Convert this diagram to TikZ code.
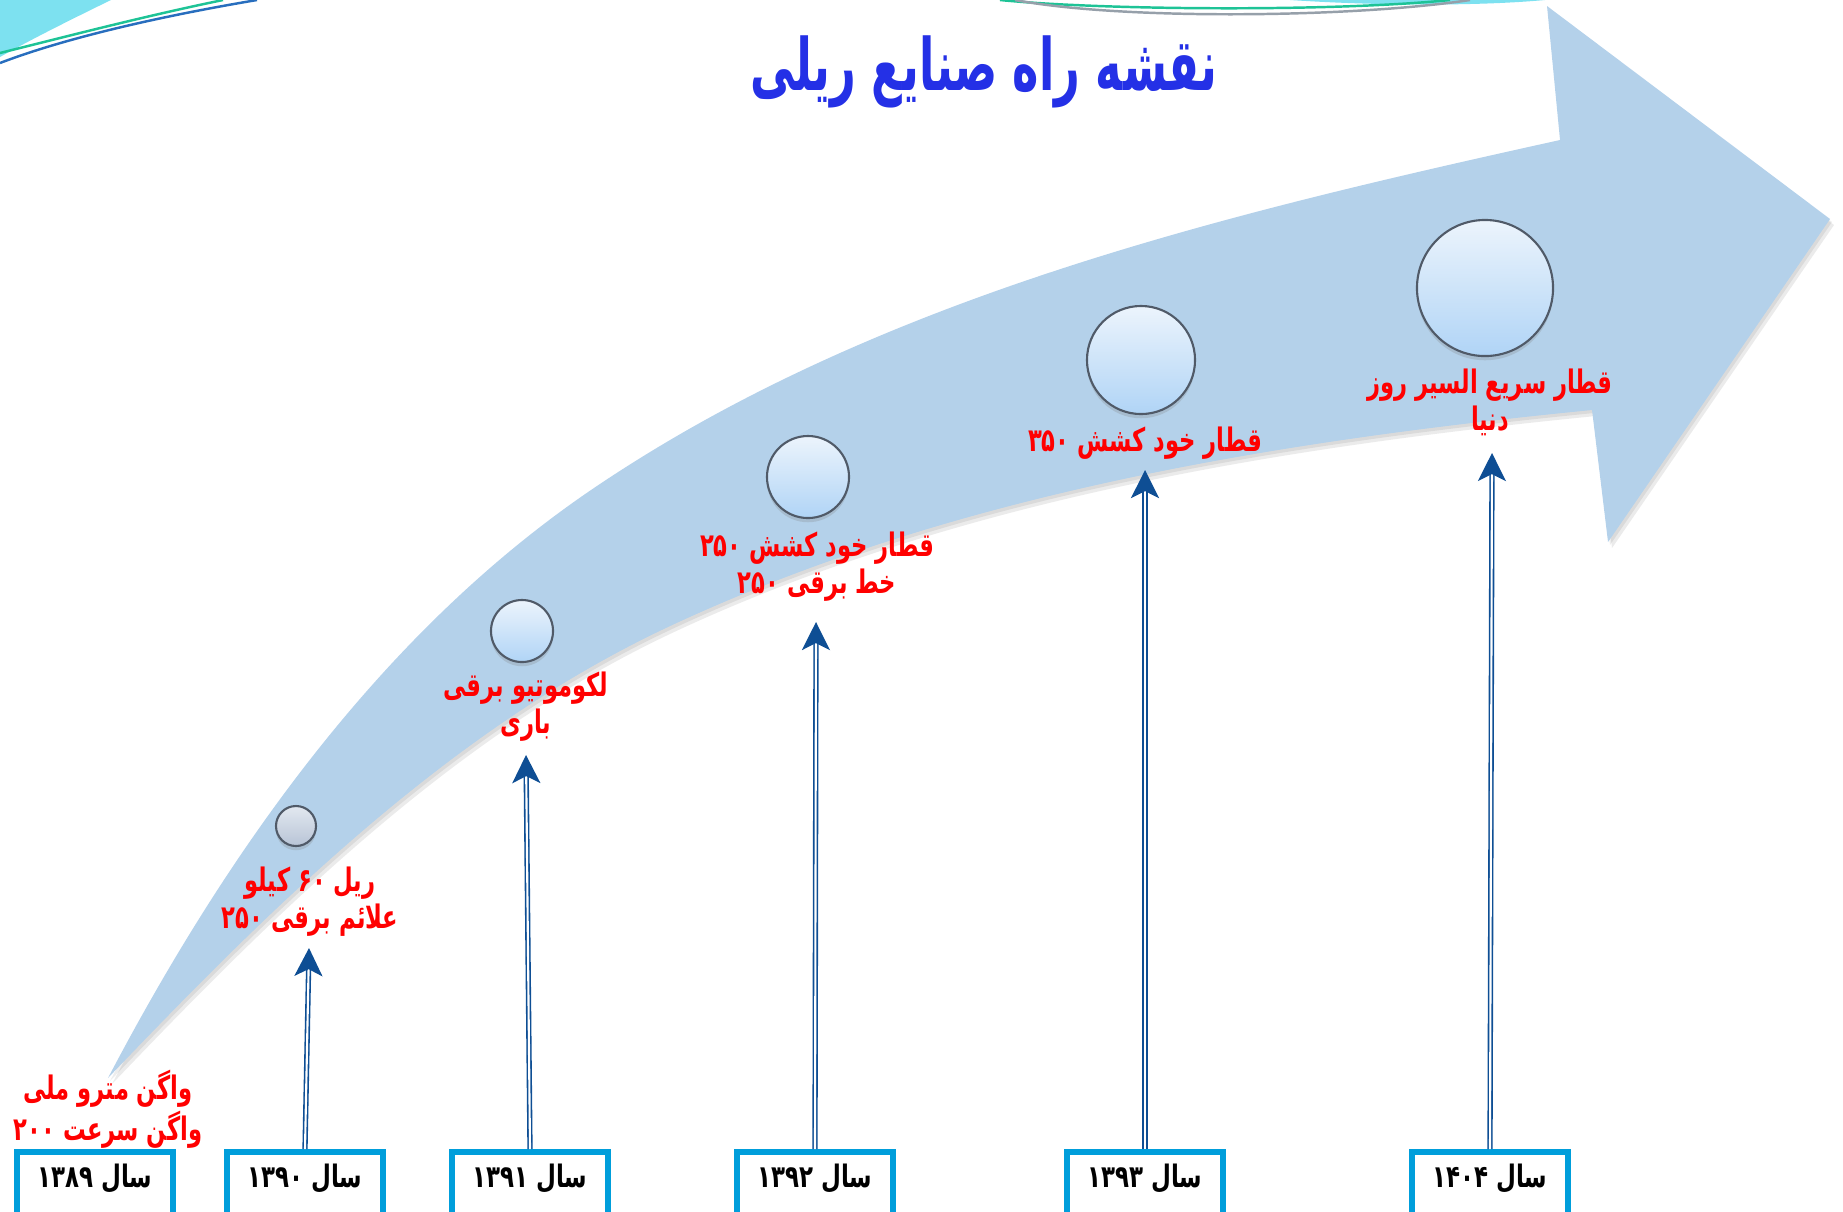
\documentclass[tikz,border=0pt]{standalone}
\usepackage{fontspec}
\usetikzlibrary{arrows.meta,shadows}
\TeXXeTstate=1
\newfontfamily\falabel[Script=Arabic,FakeStretch=0.70]{DejaVu Sans}
\newfontfamily\fabox[Script=Arabic,FakeStretch=0.74]{DejaVu Sans}
\newfontfamily\fatitle[Script=Arabic,FakeStretch=0.62]{DejaVu Sans}
\definecolor{arrowfill}{RGB}{180,209,234}
\definecolor{titleblue}{RGB}{36,48,230}
\definecolor{boxblue}{RGB}{0,158,219}
\definecolor{linkblue}{RGB}{14,78,148}
\definecolor{circedge}{RGB}{80,90,104}
\definecolor{bubtop}{RGB}{236,244,252}
\definecolor{bubbot}{RGB}{176,212,246}
\definecolor{bubgreytop}{RGB}{226,232,240}
\definecolor{bubgreybot}{RGB}{184,196,214}
\definecolor{decocyan}{RGB}{125,225,240}
\definecolor{decogreen}{RGB}{30,195,150}
\definecolor{decoblue}{RGB}{40,110,190}
\definecolor{decogrey}{RGB}{150,160,170}
\newcommand\bigarrowpath{(108,1078) .. controls (226,853) and (381,633) .. (591,490) .. controls (875,297) and (1225,214) .. (1560,140) -- (1547,6) -- (1830,219) -- (1608,542) -- (1592,410) .. controls (1278,441) and (954,493) .. (668,627) .. controls (451,729) and (274,904) .. (108,1078) -- cycle}
\begin{document}
\begin{tikzpicture}[x=0.01cm, y=-0.01cm,
  yearbox/.style={draw=boxblue, line width=1.7pt, fill=white, minimum width=1.55cm, minimum height=0.72cm, inner sep=0pt, text height=6pt, text depth=6.5pt, anchor=north, font=\fabox\bfseries\fontsize{8.8}{10}\selectfont},
  milestone/.style={text=red, align=center, inner sep=1pt, font=\falabel\bfseries\fontsize{9.2}{10.5}\selectfont},
  bubble/.style={circle, draw=circedge, line width=0.6pt, top color=bubtop, bottom color=bubbot, inner sep=0pt, drop shadow={shadow xshift=0pt, shadow yshift=-1.2pt, opacity=0.25}},
  link/.style={draw=linkblue, double=white, double distance=0.6pt, line width=0.45pt, -{Stealth[length=8pt,width=8pt,inset=2pt]}},
]
\useasboundingbox (0,0) rectangle (1843,1211);
\clip (0,0) rectangle (1843,1211);
% corner decorations
\fill[decocyan] (0,0) -- (111,0) .. controls (70,20) and (30,40) .. (0,57) -- cycle;
\draw[decogreen, line width=0.7pt] (0,53) .. controls (80,33) and (150,15) .. (223,0);
\draw[decoblue, line width=0.7pt] (0,63) .. controls (60,40) and (150,18) .. (257,0);
\fill[decocyan] (1290,0) .. controls (1380,6) and (1480,6) .. (1545,0) -- cycle;
\draw[decogreen, line width=0.7pt] (1000,0) .. controls (1100,10) and (1330,12) .. (1450,0);
\draw[decogrey, line width=0.7pt] (1015,0) .. controls (1120,20) and (1350,18) .. (1470,0);
% big arrow
\fill[black, opacity=0.07, shift={(2,3)}] \bigarrowpath;
\fill[black, opacity=0.08, shift={(4,6)}] \bigarrowpath;
\fill[arrowfill] \bigarrowpath;
% bubbles
\node[bubble, minimum size=0.4cm, top color=bubgreytop, bottom color=bubgreybot] (c1) at (296,826) {};
\node[bubble, minimum size=0.62cm] (c2) at (522,631) {};
\node[bubble, minimum size=0.82cm] (c3) at (808,477) {};
\node[bubble, minimum size=1.08cm] (c4) at (1141,360) {};
\node[bubble, minimum size=1.36cm] (c5) at (1485,288) {};
% title
\node[text=titleblue, font=\fatitle\bfseries\fontsize{20.5}{24}\selectfont] (title) at (984,72) {\beginR نقشه راه صنایع ریلی\endR};
% milestone labels
\node[milestone] (m0) at (108,1109) {\beginR واگن مترو ملی\endR\\\beginR واگن سرعت \beginL۲۰۰\endL\endR};
\node[milestone] (m1) at (310,902) {\beginR ریل \beginL۶۰\endL{} کیلو\endR\\\beginR علائم برقی \beginL۲۵۰\endL\endR};
\node[milestone] (m2) at (526,707) {\beginR لکوموتیو برقی\endR\\\beginR باری\endR};
\node[milestone] (m3) at (817,567) {\beginR قطار خود کشش \beginL۲۵۰\endL\endR\\\beginR خط برقی \beginL۲۵۰\endL\endR};
\node[milestone] (m4) at (1145,443) {\beginR قطار خود کشش \beginL۳۵۰\endL\endR};
\node[milestone] (m5) at (1490,402) {\beginR قطار سریع السیر روز\endR\\\beginR دنیا\endR};
% year boxes
\node[yearbox] (b0) at (95,1149) {\beginR سال \beginL۱۳۸۹\endL\endR};
\node[yearbox] (b1) at (305,1149) {\beginR سال \beginL۱۳۹۰\endL\endR};
\node[yearbox] (b2) at (530,1149) {\beginR سال \beginL۱۳۹۱\endL\endR};
\node[yearbox] (b3) at (815,1149) {\beginR سال \beginL۱۳۹۲\endL\endR};
\node[yearbox] (b4) at (1145,1149) {\beginR سال \beginL۱۳۹۳\endL\endR};
\node[yearbox] (b5) at (1490,1149) {\beginR سال \beginL۱۴۰۴\endL\endR};
% connector tips
\coordinate (t1) at (309,948);
\coordinate (t2) at (526,755);
\coordinate (t3) at (816,622);
\coordinate (t4) at (1145,470);
\coordinate (t5) at (1492,453);
\draw[link] (b1.north) -- (t1);
\draw[link] (b2.north) -- (t2);
\draw[link] (b3.north) -- (t3);
\draw[link] (b4.north) -- (t4);
\draw[link] (b5.north) -- (t5);
\end{tikzpicture}
\end{document}
